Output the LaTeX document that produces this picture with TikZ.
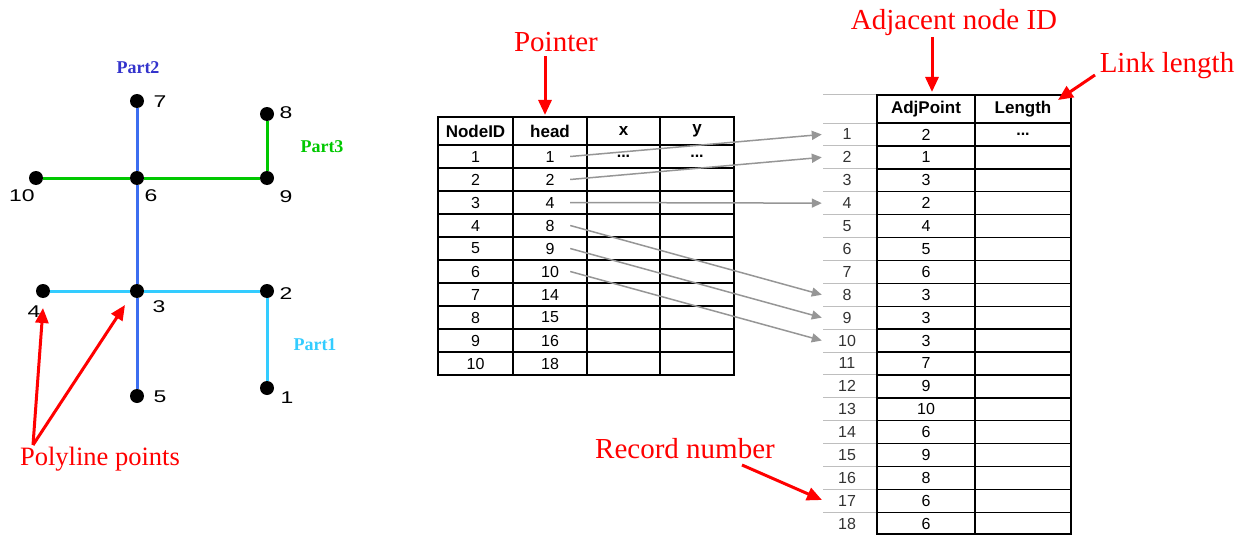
\documentclass[tikz,border=0pt]{standalone}
\usepackage{fontspec}
\setmainfont{Liberation Serif}
\newfontfamily\tabfont{Liberation Sans}
\newfontfamily\numfont[FakeStretch=1.35]{Liberation Sans}
\usetikzlibrary{arrows.meta}
\definecolor{partblue}{RGB}{51,51,204}
\definecolor{lineblue}{RGB}{60,110,240}
\definecolor{partgreen}{RGB}{0,200,0}
\definecolor{partcyan}{RGB}{51,204,255}
\definecolor{arrowgray}{RGB}{150,150,150}
\definecolor{gridgray}{RGB}{190,190,190}
\begin{document}
\begin{tikzpicture}[x=1pt,y=-1pt,
  dot/.style={circle,fill=black,inner sep=0pt,minimum size=14pt},
  numlbl/.style={font=\numfont\fontsize{17}{17}\selectfont,inner sep=0pt},
  partlbl/.style={font=\bfseries\fontsize{18}{18}\selectfont,inner sep=0pt},
  redlbl/.style={font=\fontsize{29}{29}\selectfont,text=red,anchor=base,inner sep=0pt},
  redarrow/.style={draw=red,line width=3pt,-{Triangle[length=15pt,width=13pt]}},
  grayarrow/.style={draw=arrowgray,line width=1.5pt,-{Triangle[length=10pt,width=9pt]}},
  cell/.style={font=\tabfont\fontsize{16}{16}\selectfont,inner sep=0pt},
  hcell/.style={font=\tabfont\bfseries\fontsize{17}{17}\selectfont,inner sep=0pt},
  headcell/.style={cell,minimum width=40pt},
  rowcell/.style={cell,minimum width=50pt,text=black!80},
  inner/.style={line width=1.4pt},
  outer/.style={line width=2.8pt},
  gline/.style={line width=3pt}
]
\useasboundingbox (0,0) rectangle (1251,535);

% ---------- graph ----------
\node[dot] (n7) at (137,101) {};
\node[dot] (n8) at (267,114) {};
\node[dot] (n10) at (36,178) {};
\node[dot] (n6) at (137,178) {};
\node[dot] (n9) at (267,178) {};
\node[dot] (n4) at (43,291) {};
\node[dot] (n3) at (137,291) {};
\node[dot] (n2) at (267,291) {};
\node[dot] (n5) at (137,396) {};
\node[dot] (n1) at (267,388) {};

\draw[gline,lineblue] (n7) -- (n6) -- (n3) -- (n5);
\draw[gline,partgreen] (n10) -- (n6) -- (n9) -- (n8);
\draw[gline,partcyan] (n4) -- (n3) -- (n2) -- (n1);

\node[numlbl] (l7) at (160,102) {7};
\node[numlbl] (l8) at (286,113) {8};
\node[numlbl] (l10) at (22,196) {10};
\node[numlbl] (l6) at (151,196) {6};
\node[numlbl] (l9) at (286,197) {9};
\node[numlbl] (l4) at (34,312) {4};
\node[numlbl] (l3) at (159,307) {3};
\node[numlbl] (l2) at (286,294) {2};
\node[numlbl] (l5) at (160,397) {5};
\node[numlbl] (l1) at (287,398) {1};

\node[partlbl,text=partblue] (p2) at (138,68) {Part2};
\node[partlbl,text=partgreen] (p3) at (322,147) {Part3};
\node[partlbl,text=partcyan] (p1) at (315,345) {Part1};

\node[redlbl,font=\fontsize{26.5}{26.5}\selectfont] (poly) at (100,465) {Polyline points};
\coordinate (polytip) at (33,445);
\draw[redarrow] (polytip) -- (43,308);
\draw[redarrow] (polytip) -- (125,305);

% ---------- table 1 ----------
\node[hcell] (t1h1) at (475.5,131) {NodeID};
\node[hcell] (t1h2) at (550,131) {head};
\node[hcell] (t1h3) at (623.5,131) {x};
\node[hcell] (t1h4) at (697,131) {y};
\foreach \r/\h in {1/1,2/2,3/4,4/8,5/9,6/10,7/14,8/15,9/16,10/18}{
  \node[cell] (id\r) at (475.5,{145+23*(\r-0.5)}) {\r};
  \node[headcell] (h\r) at (550,{145+23*(\r-0.5)}) {\h};
}
\node[cell] (x1) at (623.5,156.5) {\textbf{...}};
\node[cell] (y1) at (697,156.5) {\textbf{...}};
\foreach \y in {145,168,191,214,237,260,283,306,329,352}
  \draw[inner] (438,\y) -- (734,\y);
\foreach \x in {513,587,660}
  \draw[inner] (\x,117) -- (\x,375);
\draw[outer] (438,117) rectangle (734,375);

\node[redlbl] (ptr) at (556,52) {Pointer};
\draw[redarrow] (ptr.south -| 545,0) ++(0,4) -- (545,115);

% ---------- table 2 ----------
\draw[gridgray,line width=1pt] (823,95) -- (877,95);
\foreach \i in {0,...,17}
  \draw[gridgray,line width=1pt] (823,{123+22.9*\i}) -- (877,{123+22.9*\i});
\node[hcell] (t2h1) at (926,109) {AdjPoint};
\node[hcell] (t2h2) at (1023,109) {Length};
\foreach \r/\a in {1/2,2/1,3/3,4/2,5/4,6/5,7/6,8/3,9/3,10/3,11/7,12/9,13/10,14/6,15/9,16/8,17/6,18/6}{
  \node[rowcell] (r\r) at (847,{123+22.9*(\r-0.5)}) {\r};
  \node[cell] (a\r) at (926,{123+22.9*(\r-0.5)}) {\a};
}
\node[cell] (len1) at (1023,134.5) {\textbf{...}};
\foreach \i in {0,...,17}
  \draw[inner] (877,{123+22.9*\i}) -- (1071,{123+22.9*\i});
\draw[inner] (975,95) -- (975,534);
\draw[outer] (877,95) rectangle (1071,534);

\node[redlbl] (adj) at (954,30) {Adjacent node ID};
\draw[redarrow] (932,37) -- (932,92);
\node[redlbl] (link) at (1167,73) {Link length};
\draw[redarrow] (1095,75) -- (1058,100);
\node[redlbl] (rec) at (685,458) {Record number};
\draw[redarrow] (742,465) -- (822,500);

% ---------- pointers ----------
\foreach \a/\b in {1/1,2/2,3/4,4/8,5/9,6/10}
  \draw[grayarrow] (h\a.east) -- (r\b.west);
\end{tikzpicture}
\end{document}
